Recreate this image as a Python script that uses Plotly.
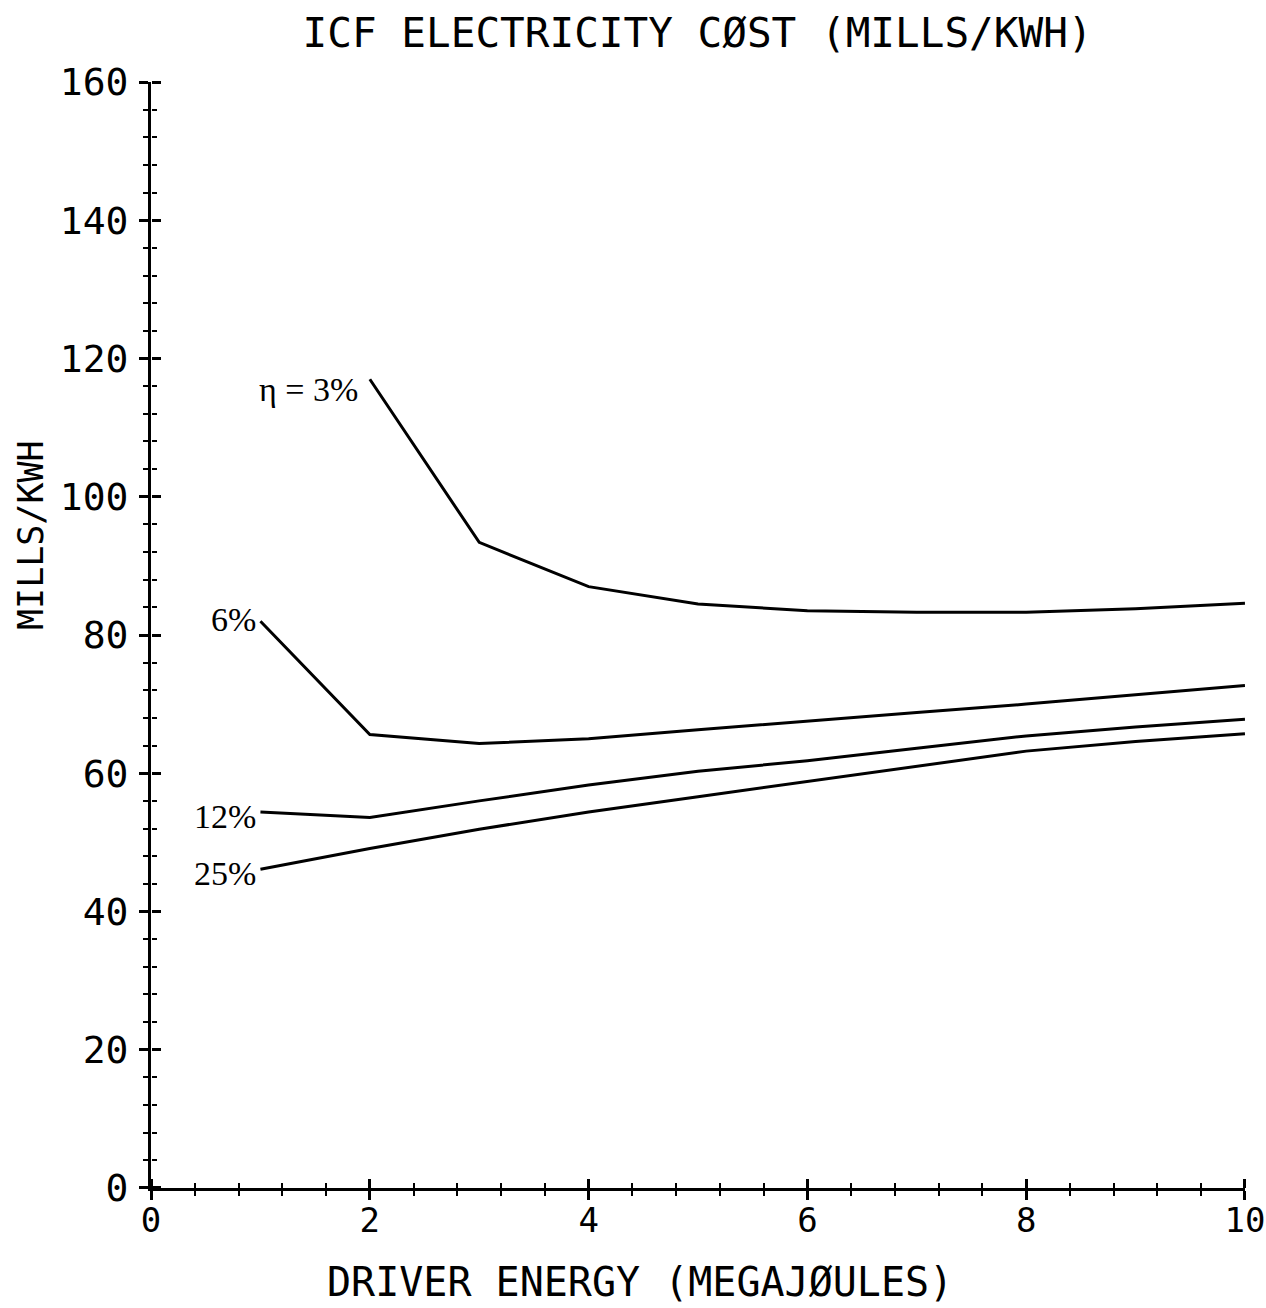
import plotly.graph_objects as go

# ---- data ----
x_3 = [2, 3, 4, 5, 6, 7, 8, 9, 10]
y_3 = [117.0, 93.4, 87.0, 84.5, 83.5, 83.3, 83.3, 83.8, 84.6]

x_6 = [1, 2, 3, 4, 5, 6, 7, 8, 9, 10]
y_6 = [82.0, 65.6, 64.3, 65.0, 66.3, 67.6, 68.8, 70.0, 71.4, 72.7]

x_12 = [1, 2, 3, 4, 5, 6, 7, 8, 9, 10]
y_12 = [54.4, 53.6, 56.0, 58.3, 60.3, 61.8, 63.6, 65.4, 66.7, 67.8]

x_25 = [1, 2, 3, 4, 5, 6, 7, 8, 9, 10]
y_25 = [46.1, 49.1, 51.9, 54.4, 56.6, 58.8, 61.0, 63.2, 64.6, 65.7]

series_labels = ["η = 3%", "6%", "12%", "25%"]
x_ticks = [0, 2, 4, 6, 8, 10]
y_ticks = [0, 20, 40, 60, 80, 100, 120, 140, 160]

title_text = "ICF ELECTRICITY CØST (MILLS/KWH)"
x_title = "DRIVER ENERGY (MEGAJØULES)"
y_title = "MILLS/KWH"

# ---- figure ----
MONO = "DejaVu Sans Mono"
SERIF = "Liberation Serif"
series = [(x_3, y_3), (x_6, y_6), (x_12, y_12), (x_25, y_25)]
label_shift = [(-10, -10), (-2, 2), (-2, -5), (-2, -4)]
XR = [-0.0005, 10.0005]
YR = [-0.01, 160.01]

fig = go.Figure()
for (xs, ys), name in zip(series, series_labels):
    fig.add_trace(go.Scatter(x=xs, y=ys, mode="lines", name=name,
                             line=dict(color="black", width=3),
                             showlegend=False, hoverinfo="skip"))

# invisible traces so the helper axes (inner half of crossing ticks) are drawn
fig.add_trace(go.Scatter(x=[x_ticks[0]], y=[y_ticks[0]], xaxis="x", yaxis="y2",
                         mode="markers", marker=dict(opacity=0, size=1),
                         showlegend=False, hoverinfo="skip"))
fig.add_trace(go.Scatter(x=[x_ticks[0]], y=[y_ticks[0]], xaxis="x2", yaxis="y",
                         mode="markers", marker=dict(opacity=0, size=1),
                         showlegend=False, hoverinfo="skip"))

for ((xs, ys), name, (dx, dy)) in zip(series, series_labels, label_shift):
    fig.add_annotation(x=xs[0], y=ys[0], text=name, showarrow=False,
                       xanchor="right", yanchor="middle", xshift=dx, yshift=dy,
                       font=dict(family=SERIF, size=34, color="black"))

axis_common = dict(showgrid=False, zeroline=False, tickcolor="black",
                   tickwidth=2.5, ticklen=9, automargin=False)

fig.update_layout(
    width=1266, height=1308,
    margin=dict(l=151, r=21, t=82, b=120, autoexpand=False),
    paper_bgcolor="white", plot_bgcolor="white",
    title=dict(text=title_text, x=0.551, xanchor="center", y=1 - 33 / 1308,
               yanchor="middle", font=dict(family=MONO, size=41, color="black")),
    xaxis=dict(range=XR, tickvals=x_ticks, ticks="outside",
               showline=True, linecolor="black", linewidth=3,
               tickfont=dict(family=MONO, size=34, color="black"),
               ticklabelstandoff=-9, ticklabeloverflow="allow",
               minor=dict(dtick=0.4, tick0=0, ticks="outside", ticklen=5,
                          tickwidth=2, tickcolor="black"),
               **axis_common),
    yaxis=dict(range=YR, tickvals=y_ticks, ticks="outside",
               showline=True, linecolor="black", linewidth=3,
               tickfont=dict(family=MONO, size=38, color="black"),
               ticklabelstandoff=3, ticklabeloverflow="allow",
               minor=dict(dtick=4, tick0=0, ticks="outside", ticklen=5,
                          tickwidth=2, tickcolor="black"),
               **axis_common),
    # helper axes: same scale, placed on the main axis lines, ticks pointing inward
    xaxis2=dict(range=XR, tickvals=x_ticks, ticks="outside",
                overlaying="x", side="top", anchor="free", position=0,
                showticklabels=False, showline=False,
                minor=dict(dtick=0.4, tick0=0, ticks="outside", ticklen=5,
                           tickwidth=2, tickcolor="black"),
                **axis_common),
    yaxis2=dict(range=YR, tickvals=y_ticks, ticks="outside",
                overlaying="y", side="right", anchor="free", position=0,
                showticklabels=False, showline=False,
                minor=dict(dtick=4, tick0=0, ticks="outside", ticklen=5,
                           tickwidth=2, tickcolor="black"),
                **axis_common),
)

fig.add_annotation(text=x_title, xref="paper", yref="paper",
                   x=(640 - 151) / 1094, y=(1188 - 1282) / 1106,
                   xanchor="center", yanchor="middle", showarrow=False,
                   font=dict(family=MONO, size=40, color="black"))
fig.add_annotation(text=y_title, xref="paper", yref="paper",
                   x=(31 - 151) / 1094, y=(1188 - 535) / 1106, textangle=-90,
                   xanchor="center", yanchor="middle", showarrow=False,
                   font=dict(family=MONO, size=35, color="black"))

fig.write_html("out.html")
